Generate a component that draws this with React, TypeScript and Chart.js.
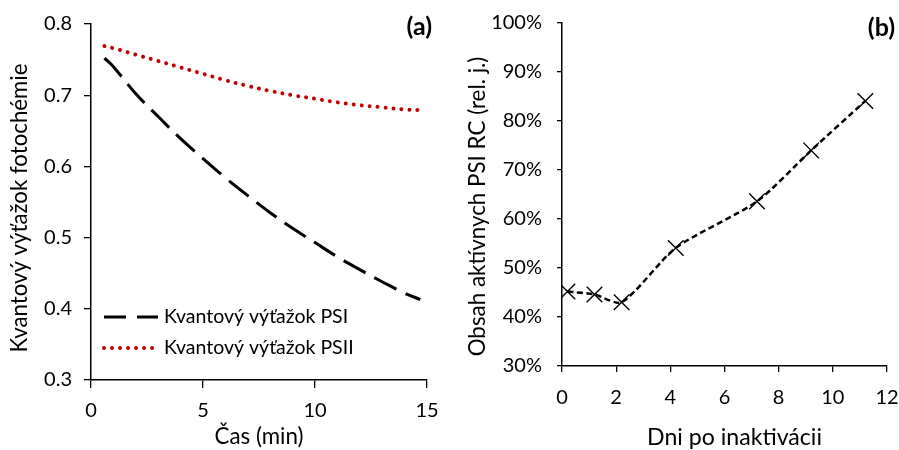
import React, { useEffect, useRef } from "react";
import { Chart, registerables } from "chart.js";

Chart.register(...registerables);

// ---- Panel (a) data ----
const timeMin = [0.6, 1, 2, 3, 4, 5, 6, 7, 8, 9, 10, 11, 12, 13, 14, 14.7];
const yieldPSI = [0.752, 0.74, 0.702, 0.67, 0.639, 0.611, 0.584, 0.559, 0.535, 0.513, 0.493, 0.473, 0.455, 0.438, 0.422, 0.413];
const yieldPSII = [0.769, 0.766, 0.757, 0.748, 0.739, 0.73, 0.721, 0.713, 0.706, 0.7, 0.695, 0.69, 0.686, 0.683, 0.68, 0.679];
const labelPSI = "Kvantový výťažok PSI";
const labelPSII = "Kvantový výťažok PSII";

// ---- Panel (b) data ----
const daysAfter = [0.2, 1.2, 2.2, 4.2, 7.2, 9.2, 11.2];
const activeRC = [0.452, 0.446, 0.43, 0.541, 0.636, 0.74, 0.841];

const FONT = "Lato, 'Open Sans', sans-serif";
const TICK_FS = 20;
const LEGEND_FS = 19.5;

const legendPlugin = {
  id: "insideLegend",
  afterDatasetsDraw(chart: any) {
    const { ctx, chartArea } = chart;
    const x0 = chartArea.left + 13;
    const rows = [chartArea.top + 293, chartArea.top + 324];
    chart.data.datasets.forEach((ds: any, i: number) => {
      const y = rows[i];
      ctx.save();
      ctx.strokeStyle = ds.borderColor;
      ctx.lineWidth = ds.borderWidth;
      ctx.lineCap = ds.borderCapStyle || "butt";
      ctx.setLineDash(ds.legendDash || ds.borderDash || []);
      ctx.beginPath();
      ctx.moveTo(x0, y);
      ctx.lineTo(x0 + 54, y);
      ctx.stroke();
      ctx.setLineDash([]);
      ctx.fillStyle = "#000";
      ctx.font = `${LEGEND_FS}px ${FONT}`;
      ctx.textBaseline = "middle";
      ctx.textAlign = "left";
      ctx.fillText(ds.label, x0 + 60, y);
      ctx.restore();
    });
  },
};

const panelLabel = (text: string, dx: number, dy: number) => ({
  id: "panelLabel",
  afterDraw(chart: any) {
    const { ctx, chartArea } = chart;
    ctx.save();
    ctx.fillStyle = "#000";
    ctx.font = `bold 25px ${FONT}`;
    ctx.textAlign = "right";
    ctx.textBaseline = "middle";
    ctx.fillText(text, chartArea.right + dx, chartArea.top + dy);
    ctx.restore();
  },
});

// pick a font size so that the text spans the given length (clamped)
const fitSize = (ctx: any, text: string, target: number) => {
  ctx.font = `20px ${FONT}`;
  const w = ctx.measureText(text).width || target;
  return Math.max(16, Math.min(24, (20 * target) / w));
};

// axis titles: x title centred under the plot, y title rotated left of the axis
const axisTitles = (
  xText: string,
  xLen: number,
  xDx: number,
  xY: number,
  yText: string,
  yLen: number,
  yX: number,
  yDy: number
) => ({
  id: "axisTitles",
  afterDraw(chart: any) {
    const { ctx, chartArea } = chart;
    ctx.save();
    ctx.fillStyle = "#000";
    ctx.textAlign = "center";
    ctx.textBaseline = "middle";
    const xs = fitSize(ctx, xText, xLen);
    ctx.font = `${xs}px ${FONT}`;
    ctx.fillText(xText, (chartArea.left + chartArea.right) / 2 + xDx, xY);
    const ys = fitSize(ctx, yText, yLen);
    ctx.translate(yX, (chartArea.top + chartArea.bottom) / 2 + yDy);
    ctx.rotate(-Math.PI / 2);
    ctx.font = `${ys}px ${FONT}`;
    ctx.fillText(yText, 0, 0);
    ctx.restore();
  },
});

const axisCommon = (tickLength: number) => ({
  grid: {
    display: true,
    drawOnChartArea: false,
    drawTicks: true,
    tickLength,
    color: "#000",
    lineWidth: 1.3,
  },
  border: { display: true, color: "#000", width: 1.5 },
});

const fixX = (h: number) => (s: any) => {
  s.height = h;
  s.paddingLeft = 0;
  s.paddingRight = 0;
};
const fixY = (w: number) => (s: any) => {
  s.width = w;
  s.paddingTop = 0;
  s.paddingBottom = 0;
};

export default function App() {
  const refA = useRef<HTMLCanvasElement>(null);
  const refB = useRef<HTMLCanvasElement>(null);

  useEffect(() => {
    const chartA = new Chart(refA.current!, {
      type: "line",
      data: {
        datasets: [
          {
            label: labelPSI,
            data: timeMin.map((t, i) => ({ x: t, y: yieldPSI[i] })),
            borderColor: "#000000",
            borderWidth: 3,
            borderDash: [25, 10],
            legendDash: [22, 11],
            pointRadius: 0,
            tension: 0.4,
          } as any,
          {
            label: labelPSII,
            data: timeMin.map((t, i) => ({ x: t, y: yieldPSII[i] })),
            borderColor: "#C00000",
            borderWidth: 4,
            borderDash: [0.01, 8],
            borderCapStyle: "round",
            pointRadius: 0,
            tension: 0.4,
          } as any,
        ],
      },
      options: {
        animation: false,
        responsive: false,
        layout: { autoPadding: false, padding: { left: 0, right: 23, top: 24, bottom: 0 } },
        plugins: { legend: { display: false }, tooltip: { enabled: false } },
        scales: {
          x: {
            type: "linear",
            min: 0,
            max: 15,
            ...axisCommon(8),
            ticks: { stepSize: 5, color: "#000", font: { family: FONT, size: TICK_FS }, padding: 11 },
            afterFit: fixX(70),
          },
          y: {
            type: "linear",
            min: 0.3,
            max: 0.8,
            ...axisCommon(7),
            ticks: {
              stepSize: 0.1,
              color: "#000",
              font: { family: FONT, size: TICK_FS },
              padding: 12,
              callback: (v: any) => Number(v).toFixed(1),
            },
            afterFit: fixY(91),
          },
        },
      },
      plugins: [
        legendPlugin,
        panelLabel("(a)", 5, 3),
        axisTitles("Čas (min)", 89, 0, 437, "Kvantový výťažok fotochémie", 289, 20, 6),
      ],
    });

    const chartB = new Chart(refB.current!, {
      type: "line",
      data: {
        datasets: [
          {
            label: "Obsah aktívnych PSI RC",
            data: daysAfter.map((d, i) => ({ x: d, y: activeRC[i] })),
            borderColor: "#000000",
            borderWidth: 2.5,
            borderDash: [6, 3.5],
            tension: 0.25,
            pointStyle: "crossRot",
            pointRadius: 11,
            pointBorderWidth: 1.4,
            pointBorderColor: "#000",
            pointBackgroundColor: "#000",
          } as any,
        ],
      },
      options: {
        animation: false,
        responsive: false,
        layout: { autoPadding: false, padding: { left: 0, right: 12, top: 23, bottom: 0 } },
        plugins: { legend: { display: false }, tooltip: { enabled: false } },
        scales: {
          x: {
            type: "linear",
            min: 0,
            max: 12,
            ...axisCommon(6),
            ticks: { stepSize: 2, color: "#000", font: { family: FONT, size: TICK_FS }, padding: 14 },
            afterFit: fixX(84),
          },
          y: {
            type: "linear",
            min: 0.3,
            max: 1.0,
            ...axisCommon(5),
            ticks: {
              stepSize: 0.1,
              color: "#000",
              font: { family: FONT, size: TICK_FS },
              padding: 15,
              callback: (v: any) => `${Math.round(Number(v) * 100)}%`,
            },
            afterFit: fixY(112),
          },
        },
      },
      plugins: [
        panelLabel("(b)", 8, 5),
        axisTitles("Dni po inaktivácii", 175, 10, 438, "Obsah aktívnych PSI RC (rel. j.)", 300, 28, 12),
      ],
    });

    return () => {
      chartA.destroy();
      chartB.destroy();
    };
  }, []);

  return (
    <div style={{ position: "fixed", left: 0, top: 0, width: 899, height: 450, background: "#fff" }}>
      <canvas ref={refA} width={450} height={450} style={{ position: "absolute", left: 0, top: 0, width: 450, height: 450 }} />
      <canvas ref={refB} width={449} height={450} style={{ position: "absolute", left: 450, top: 0, width: 449, height: 450 }} />
    </div>
  );
}
